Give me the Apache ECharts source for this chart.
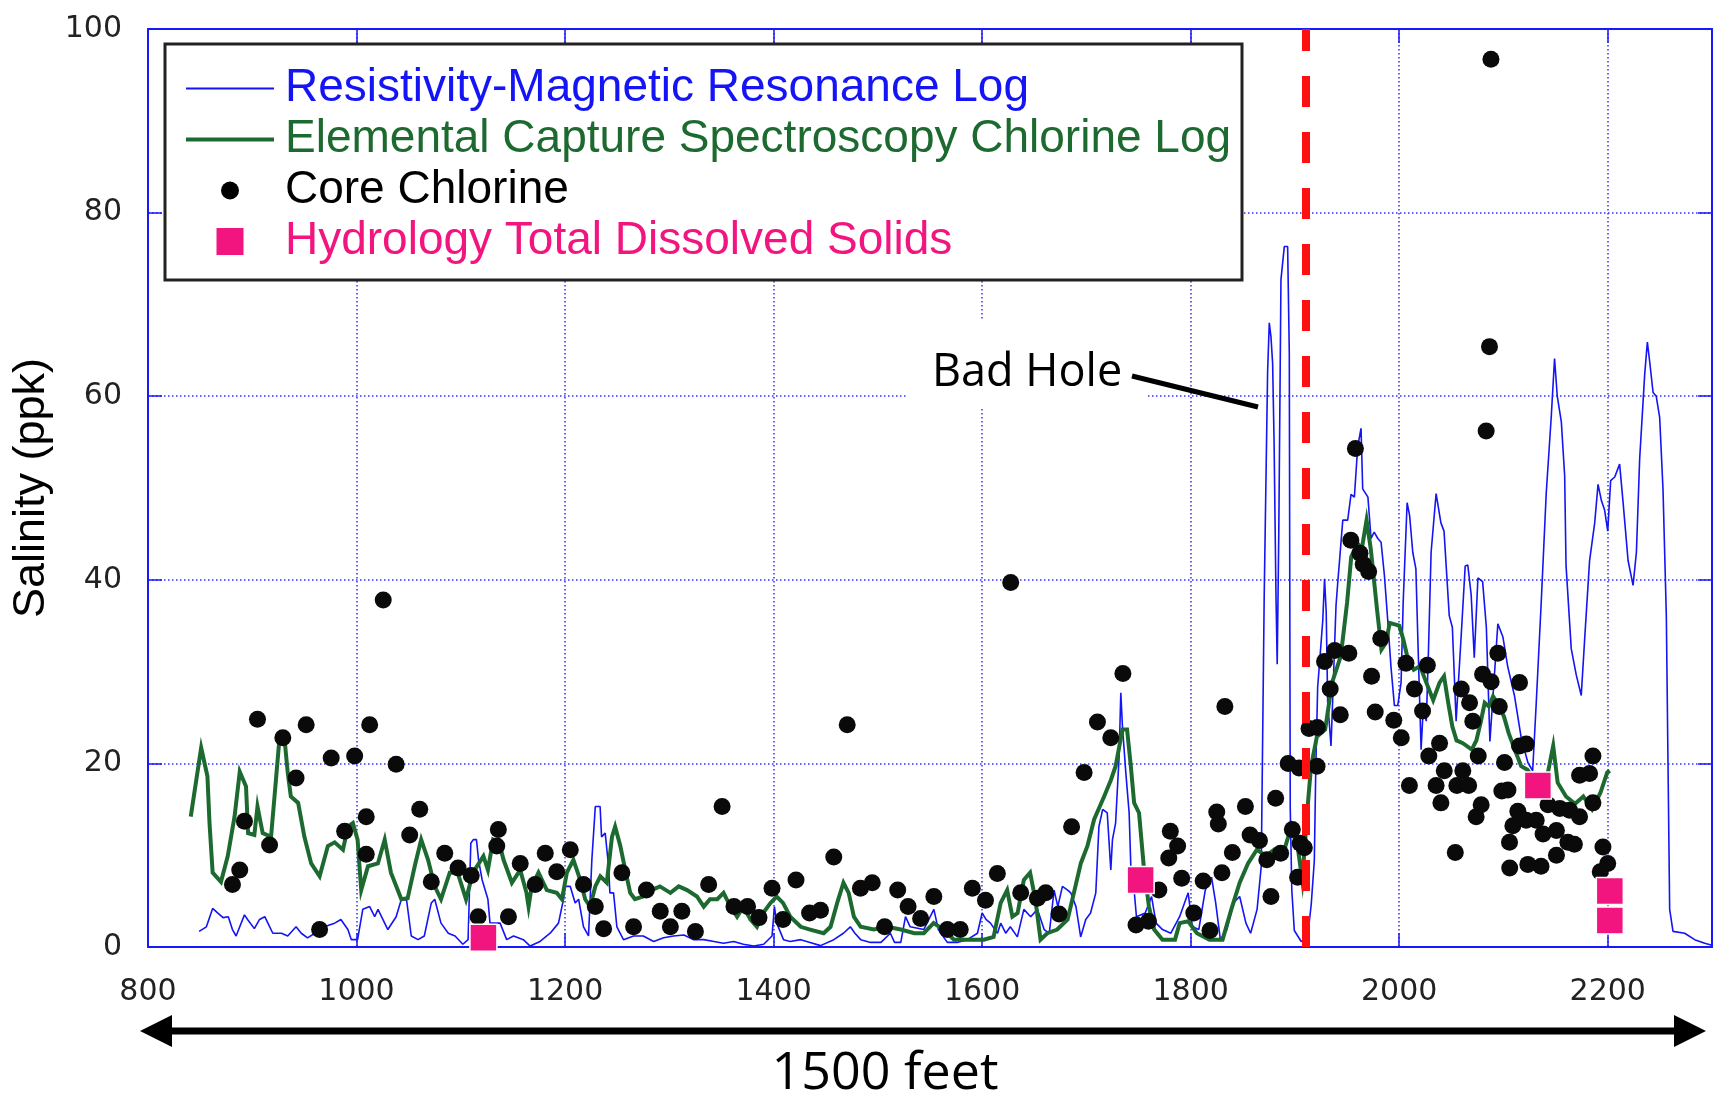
<!DOCTYPE html>
<html>
<head>
<meta charset="utf-8">
<title>Salinity logs</title>
<script src="https://cdn.jsdelivr.net/npm/echarts/dist/echarts.min.js"></script>
<style>
    html, body { margin: 0; padding: 0; background: #fff; }
    #main { width: 1723px; height: 1096px; }
</style>
</head>
<body>
<div id="main"></div>
<script>
// depth (feet) / salinity (ppk) pairs
var resistivityLog = [
    [849, 1.7], [856, 2.2], [862, 4.2], [867, 3.7], [872, 3.2], [877, 3.3], [881, 1.9], [884.5, 1.2], [888, 2.2], [892.5, 3.5],
    [895.5, 3.0], [902, 2.0], [907, 3.0], [912, 3.3], [915, 2.6], [919.7, 1.5], [928, 1.5], [934, 1.2], [942, 2.2], [947, 1.5],
    [953, 1.0], [960, 1.5], [969, 2.2], [979, 2.6], [985, 3.0], [991.7, 1.9], [995, 0.8], [1001, 0.8], [1006, 4.1], [1012.6, 4.4],
    [1017.4, 3.3], [1020.6, 4.1], [1030, 1.9], [1038, 3.3], [1043, 5.2], [1048, 5.1], [1052.5, 1.2], [1059, 0.8], [1065, 1.2], [1071.7, 4.8],
    [1075, 5.2], [1081, 2.6], [1088, 1.5], [1094.5, 1.2], [1102, 0.3], [1107, 0.8], [1109.6, 11.3], [1112, 11.7], [1115, 11.7], [1117, 9.5],
    [1120.5, 7.3], [1126, 5.2], [1128, 2.6], [1137.7, 2.6], [1144, 0.8], [1150.6, 1.2], [1160, 0.8], [1166.5, 0.1], [1176, 0.6], [1185.7, 1.5],
    [1193.7, 2.6], [1198.5, 5.2], [1200, 6.6], [1205, 6.6], [1209.7, 4.8], [1213, 5.2], [1217.7, 2.2], [1222.5, 1.2], [1225.7, 9.5], [1229, 15.3],
    [1233.6, 15.3], [1235, 12.0], [1238.5, 12.4], [1241.7, 8.8], [1243, 5.9], [1246.5, 5.9], [1249.7, 2.2], [1256, 0.8], [1265.7, 1.2], [1275, 1.2],
    [1285, 0.6], [1294.5, 1.0], [1304, 1.2], [1314, 1.3], [1323, 0.8], [1333, 0.8], [1342.7, 0.6], [1352, 0.4], [1361.7, 0.6], [1371, 0.3],
    [1381, 0.1], [1390.5, 0.3], [1398.5, 1.2], [1400.8, 4.4], [1403, 2.6], [1409.5, 0.8], [1416, 0.6], [1426, 0.8], [1435, 0.5], [1445, 0.15],
    [1457.7, 0.8], [1467, 1.5], [1473.6, 2.2], [1478, 1.5], [1483.5, 0.8], [1493, 0.5], [1503, 0.5], [1512, 1.5], [1516, 0.5], [1522, 0.5],
    [1526.5, 3.3], [1531, 2.2], [1544, 1.9], [1553.7, 4.1], [1558, 1.9], [1566.6, 0.5], [1576, 0.5], [1585.8, 0.8], [1595.5, 1.5], [1600, 3.7],
    [1603.7, 3.0], [1608, 2.6], [1614.7, 1.5], [1617.8, 2.6], [1622.6, 1.5], [1627, 2.2], [1633.8, 1.1], [1640, 4.1], [1646.6, 3.3], [1653, 4.1],
    [1659.5, 1.9], [1664.4, 1.5], [1669, 6.2], [1672.6, 4.4], [1677, 6.6], [1682, 6.2], [1685, 5.9], [1690, 4.4], [1694.5, 1.1], [1699.4, 3.0],
    [1704, 3.7], [1709, 5.9], [1712, 13.1], [1715.6, 15.0], [1720, 14.6], [1723.4, 8.4], [1725, 11.7], [1728, 13.5], [1731.4, 20.8], [1733, 27.7],
    [1734.6, 24.0], [1737.8, 19.0], [1741, 14.6], [1742.6, 8.8], [1746, 5.9], [1748, 3.3], [1756.4, 3.7], [1762.5, 5.5], [1766.8, 2.6], [1773, 1.9],
    [1781, 1.5], [1789.4, 3.3], [1797.6, 5.9], [1801.7, 2.2], [1807.8, 1.9], [1814, 6.2], [1820, 7.6], [1824, 4.8], [1828.5, 0.8], [1834.7, 1.9],
    [1841, 4.8], [1847, 5.5], [1853, 2.6], [1857.5, 1.5], [1863.7, 4.1], [1867.7, 8.8], [1870.5, 38.0], [1873.8, 62.7], [1875.4, 68.0], [1877, 66.5],
    [1878.6, 63.6], [1880, 55.0], [1881.8, 38.4], [1883, 30.8], [1884.5, 45.0], [1886.6, 72.7], [1889.8, 76.3], [1893, 76.3], [1894.6, 64.7], [1895.5, 15.1],
    [1897, 6.2], [1899.4, 1.8], [1906, 0.6], [1912, 0.9], [1915.6, 4.6], [1918.6, 9.4], [1920, 19.5], [1921.8, 28.3], [1923.5, 30.8], [1926.7, 35.6],
    [1928.4, 40.1], [1930, 36.5], [1931.4, 26.7], [1934.6, 21.9], [1936, 26.3], [1939.4, 37.2], [1941, 39.6], [1945.9, 46.5], [1950.6, 46.5], [1953.8, 49.3],
    [1957, 49.0], [1960.2, 54.5], [1963.4, 56.5], [1965, 49.9], [1970, 49.0], [1973, 44.5], [1976, 45.2], [1979.5, 44.5], [1982.6, 44.1], [1985.8, 40.5],
    [1989, 35.6], [1992.2, 30.4], [1995.4, 26.3], [1998.6, 26.3], [2001.8, 28.8], [2003.8, 37.5], [2007.6, 48.4], [2010, 47.0], [2013, 43.0], [2016, 41.2],
    [2018, 33.1], [2021, 21.5], [2023, 25.9], [2026, 24.6], [2028, 32.0], [2030.6, 43.0], [2035.4, 49.4], [2040, 46.2], [2043, 45.3], [2048, 36.1],
    [2051, 34.8], [2054.6, 24.6], [2059.4, 33.8], [2063.3, 41.5], [2065.8, 41.6], [2069, 38.4], [2072, 31.5], [2075.5, 40.2], [2080, 39.8], [2083.6, 34.8],
    [2087, 22.4], [2090.6, 28.4], [2094.6, 35.2], [2099.4, 33.8], [2104, 30.6], [2110.5, 27.4], [2117, 22.8], [2123.4, 20.1], [2128, 19.2], [2131.4, 26.5],
    [2136.2, 37.5], [2141, 49.4], [2145.8, 57.7], [2149, 64.1], [2151.6, 60.0], [2155.5, 57.2], [2158.7, 51.3], [2160, 41.6], [2165, 32.5], [2169.7, 29.7],
    [2174.6, 27.4], [2177.8, 33.4], [2182.6, 42.1], [2187.5, 46.2], [2190.7, 50.4], [2194, 48.6], [2197, 47.6], [2200, 45.3], [2202.8, 50.8], [2206.7, 51.2],
    [2211.4, 52.6], [2214.6, 48.6], [2219.5, 42.1], [2224.3, 39.4], [2227.5, 43.0], [2230.6, 53.1], [2235.4, 62.3], [2238, 65.9], [2240, 64.0], [2243.5, 60.4],
    [2246.5, 60.0], [2249.8, 57.7], [2253, 49.9], [2256.2, 36.1], [2257.8, 20.1], [2259.4, 4.1], [2262.6, 1.7], [2273.8, 1.5], [2283.4, 0.8], [2293, 0.4],
    [2300, 0.2]
];

var ecsChlorineLog = [
    [841, 14.2], [851, 21.7], [857, 18.6], [859, 13.5], [862, 8.1], [870, 7.1], [876.5, 9.9], [883, 14.2], [888, 19.1], [894, 17.5],
    [896, 12.4], [902, 12.2], [905, 15.3], [910, 12.4], [918, 12.0], [923, 18.6], [926, 22.6], [931, 22.6], [934, 19.0], [937, 16.4],
    [944, 15.7], [950, 12.0], [956.5, 9.1], [964.6, 7.7], [972.5, 11.0], [979, 11.4], [987, 10.6], [991.7, 13.1], [996.5, 13.5], [1001, 11.7],
    [1004.5, 6.2], [1011, 8.8], [1020.5, 9.1], [1027, 11.7], [1033, 8.1], [1043, 5.2], [1049, 5.3], [1055.8, 8.8], [1062, 11.7], [1068.6, 9.5],
    [1075, 6.6], [1081, 5.2], [1089.4, 8.1], [1097, 8.1], [1105, 5.2], [1111.7, 8.1], [1121.7, 9.9], [1126, 8.4], [1131, 11.7], [1137, 11.3],
    [1141, 9.5], [1149, 7.0], [1157, 8.4], [1163, 5.9], [1165, 4.4], [1168, 6.6], [1174.5, 8.1], [1182.5, 6.2], [1192, 5.9], [1197, 5.2],
    [1201.7, 8.1], [1208, 9.5], [1214.6, 7.3], [1219.3, 5.2], [1224, 4.4], [1229, 6.6], [1233.8, 7.7], [1240, 7.0], [1245, 12.0], [1248, 13.1],
    [1253, 11.0], [1257.7, 8.4], [1262.5, 5.9], [1267, 5.2], [1275, 5.5], [1283, 6.2], [1291, 6.6], [1301, 5.9], [1309, 6.6], [1317, 6.2],
    [1326.5, 5.5], [1333, 4.4], [1339, 5.2], [1346, 5.2], [1352, 5.9], [1358.6, 4.4], [1365, 3.3], [1371, 4.4], [1377.7, 3.0], [1384, 2.2],
    [1390, 3.7], [1397, 4.8], [1403, 5.5], [1409, 4.8], [1416, 3.3], [1426, 2.2], [1435, 1.9], [1448, 1.5], [1454.6, 2.2], [1461, 4.8],
    [1467, 7.0], [1472, 5.9], [1477, 3.3], [1483.5, 2.2], [1496, 1.9], [1509, 2.2], [1522, 1.9], [1535, 1.5], [1544, 1.5], [1553.5, 2.6],
    [1563, 1.9], [1573, 0.8], [1589, 0.8], [1601.7, 0.8], [1611, 1.1], [1617.8, 4.8], [1624, 6.2], [1629, 3.3], [1634, 3.7], [1640, 7.3],
    [1646, 8.1], [1651, 5.2], [1656, 0.8], [1662.5, 1.5], [1672, 1.9], [1682, 3.0], [1688, 5.9], [1694.6, 9.1], [1701, 11.0], [1707.4, 13.9],
    [1717, 16.4], [1723.5, 18.2], [1728, 19.7], [1731, 21.5], [1734.6, 23.7], [1739, 23.7], [1742.6, 19.7], [1745.8, 15.7], [1750.5, 14.6], [1755, 8.8],
    [1760, 4.4], [1765, 1.9], [1773, 0.8], [1785, 0.8], [1789.4, 2.6], [1797.6, 2.8], [1806, 1.5], [1818, 0.8], [1830.6, 0.8], [1839, 4.1],
    [1847, 7.0], [1855, 9.1], [1863.5, 10.6], [1872, 9.9], [1880, 10.6], [1888, 9.9], [1896.5, 13.1], [1903, 10.6], [1907, 7.3], [1913, 16.4],
    [1915.5, 19.7], [1921, 22.9], [1929, 23.7], [1935.6, 28.8], [1944, 31.7], [1950, 37.5], [1954, 42.5], [1960, 44.0], [1964, 43.3], [1968.7, 46.5],
    [1972.8, 43.3], [1978.8, 36.7], [1983, 32.4], [1987, 33.1], [1991, 35.3], [2000, 35.0], [2004, 33.5], [2007.6, 31.7], [2014, 30.2], [2020, 30.6],
    [2026, 28.8], [2032.6, 26.9], [2038.7, 28.8], [2043, 29.5], [2047, 26.6], [2051, 24.0], [2055, 22.5], [2061, 22.2], [2069.6, 21.5], [2074, 22.5],
    [2078, 24.4], [2082, 26.6], [2086, 26.2], [2090, 27.3], [2094, 26.6], [2100.5, 25.1], [2105, 23.3], [2110.8, 21.5], [2117, 19.7], [2123, 19.3],
    [2131, 17.9], [2140, 17.5], [2147.7, 21.9], [2152, 17.9], [2160, 16.4], [2168.6, 15.6], [2176.6, 16.4], [2185, 15.0], [2193, 16.8], [2199.5, 19.0],
    [2202, 19.2]
];

var coreChlorine = [
    [881, 6.8], [888, 8.4], [892.5, 13.7], [905, 24.8], [916.6, 11.1], [929.3, 22.8], [942, 18.4], [951.7, 24.2], [964.6, 1.9], [975.7, 20.6],
    [988.6, 12.6], [998.2, 20.8], [1009.3, 14.2], [1009.3, 10.1], [1012.6, 24.2], [1025.6, 37.8], [1038, 19.9], [1051, 12.2], [1060.6, 15.0], [1071.7, 7.1],
    [1084.6, 10.2], [1097.4, 8.6], [1110, 7.8], [1116.6, 3.3], [1134.5, 11.0], [1136, 12.8], [1145.7, 3.3], [1157, 9.1], [1171.3, 6.8], [1181, 10.2],
    [1192, 8.2], [1205, 10.6], [1217.7, 6.8], [1229, 4.4], [1237, 2.0], [1254.5, 8.1], [1265.7, 2.2], [1278, 6.2], [1291.3, 3.9], [1301, 2.2],
    [1312, 3.9], [1325, 1.7], [1337.7, 6.8], [1350.6, 15.3], [1362, 4.4], [1375, 4.4], [1386, 3.2], [1398.5, 6.4], [1409, 3.0], [1421.5, 7.3],
    [1434.5, 3.7], [1445, 4.0], [1457.7, 9.8], [1470.6, 24.2], [1483.3, 6.4], [1494.6, 7.0], [1506.5, 2.2], [1519, 6.2], [1529, 4.4], [1541, 3.1],
    [1553.7, 5.5], [1566.6, 1.9], [1579, 1.9], [1590.6, 6.4], [1603.2, 5.1], [1614.6, 8.0], [1627.4, 39.7], [1637, 5.9], [1653, 5.3], [1661, 5.9],
    [1673.8, 3.6], [1685.8, 13.1], [1697.8, 19.0], [1710.6, 24.5], [1723.4, 22.8], [1735, 29.8], [1747.6, 2.4], [1759.5, 2.8], [1769.5, 6.2], [1779, 9.7],
    [1780.5, 12.6], [1787.5, 11.0], [1791.4, 7.5], [1803, 3.7], [1812, 7.2], [1818.5, 1.8], [1825, 14.7], [1826.5, 13.4], [1830, 8.1], [1832.8, 26.2],
    [1840, 10.3], [1852.5, 15.3], [1857, 12.2], [1866, 11.6], [1873, 9.5], [1877, 5.5], [1881.5, 16.2], [1886.3, 10.2], [1893.5, 20.0], [1897.5, 12.8],
    [1902.6, 7.6], [1904, 19.5], [1905, 11.3], [1909, 10.8], [1913.5, 23.8], [1921.2, 19.7], [1921.5, 23.9], [1928.4, 31.1], [1933.8, 28.1], [1938.2, 32.3],
    [1943.5, 25.3], [1951.7, 32.0], [1953.6, 44.3], [1958, 54.3], [1962.4, 42.9], [1965.5, 41.7], [1970.7, 40.9], [1973.5, 29.5], [1977, 25.6], [1982.3, 33.6],
    [1994.8, 24.7], [2002, 22.8], [2006.5, 30.9], [2009.8, 17.6], [2014.6, 28.1], [2022.4, 25.7], [2027, 30.7], [2028.4, 20.8], [2035.4, 17.6], [2038.7, 22.2],
    [2040, 15.7], [2043.2, 19.2], [2053.8, 10.3], [2055.3, 17.6], [2059.5, 28.1], [2061, 19.2], [2066.6, 17.6], [2067.5, 26.6], [2070.6, 24.6], [2073.8, 14.2],
    [2075.8, 20.8], [2078.6, 15.5], [2080, 29.7], [2083.4, 56.2], [2086.6, 65.4], [2088, 96.7], [2088.2, 28.9], [2094.6, 32.0], [2096, 26.2], [2098.4, 17.0],
    [2101, 20.1], [2104.3, 17.1], [2105.8, 11.4], [2106, 8.6], [2109, 13.2], [2113.8, 14.8], [2115.4, 28.8], [2115.4, 21.9], [2121.8, 22.1], [2121.8, 13.8],
    [2123.4, 9.0], [2131.4, 13.8], [2136, 8.8], [2138, 12.3], [2142.7, 15.5], [2150.8, 12.7], [2150.8, 10.0], [2154, 15.1], [2161.8, 11.4], [2163.4, 14.9],
    [2168, 11.2], [2173, 14.2], [2173, 18.7], [2182.6, 18.9], [2185.8, 20.8], [2185.8, 15.7], [2192.8, 8.2], [2195.4, 10.9], [2200, 9.1]
];

var hydrologyTds = [[1121.7, 1.0], [1752, 7.3], [2133, 17.6], [2202, 6.1], [2202, 2.9]];

var badHoleDepth = 1910;
var depthMin = 800, depthMax = 2300, depthStep = 200;
var salinityMin = 0, salinityMax = 100, salinityStep = 20;

var seriesNames = [
    'Resistivity-Magnetic Resonance Log',
    'Elemental Capture Spectroscopy Chlorine Log',
    'Core Chlorine',
    'Hydrology Total Dissolved Solids'
];

var BLUE = '#1414f5';
var GREEN = '#1d6a30';
var PINK = '#f2157f';
var AXIS_BLUE = '#1818ff';

var chart = echarts.init(document.getElementById('main'));

// legend icons share one 94x27 box so line, dot and square line up
var iconBox = 'M0,0 M94,27 ';
var legendIcons = [
    'path://' + iconBox + 'M0,12.5 H88 V14.5 H0 Z',
    'path://' + iconBox + 'M0,11.5 H88 V15.5 H0 Z',
    'path://' + iconBox + 'M44,4.5 A9,9 0 1,1 44,22.5 A9,9 0 1,1 44,4.5 Z',
    'path://' + iconBox + 'M30.5,0 H57.5 V27 H30.5 Z'
];
var legendColors = [BLUE, GREEN, '#000', PINK];

function axisPair(pos, isX, showLabel) {
    var ax = {
        type: 'value',
        position: pos,
        min: isX ? depthMin : salinityMin,
        max: isX ? depthMax : salinityMax,
        interval: isX ? depthStep : salinityStep,
        axisLine: { show: true, onZero: false, lineStyle: { color: AXIS_BLUE, width: 2 } },
        axisTick: { show: true, inside: true, length: 14, lineStyle: { color: AXIS_BLUE, width: 1.5 } },
        axisLabel: { show: false },
        splitLine: { show: false }
    };
    if (showLabel) {
        ax.axisLabel = {
            show: true,
            showMaxLabel: !isX,
            margin: isX ? 30 : 26,
            color: '#222',
            fontFamily: 'DejaVu Sans',
            fontSize: 30,
            formatter: function (v) { return String(v); }
        };
        ax.splitLine = { show: true, lineStyle: { color: '#3030ff', width: 1.5, type: [1.5, 2.5] } };
    }
    return ax;
}

var yMain = axisPair('left', false, true);
yMain.name = 'Salinity (ppk)';
yMain.nameLocation = 'middle';
yMain.nameGap = 88;
yMain.nameTextStyle = { color: '#000', fontFamily: 'Liberation Sans', fontSize: 45 };

var option = {
    animation: false,
    backgroundColor: '#fff',
    grid: { left: 148, right: 11, top: 29, bottom: 149, containLabel: false },
    xAxis: [axisPair('bottom', true, true), axisPair('top', true, false)],
    yAxis: [yMain, axisPair('right', false, false)],
    legend: {
        orient: 'vertical',
        left: 186,
        top: 63,
        padding: 0,
        itemGap: 0,
        itemWidth: 94,
        itemHeight: 27,
        selectedMode: false,
        itemStyle: { borderWidth: 0 },
        textStyle: { fontFamily: 'Liberation Sans', fontSize: 46, lineHeight: 51 },
        data: seriesNames.map(function (name, i) {
            return {
                name: name,
                icon: legendIcons[i],
                itemStyle: { color: legendColors[i], borderWidth: 0 },
                textStyle: { color: legendColors[i] }
            };
        })
    },
    series: [{
        name: seriesNames[0],
        type: 'line',
        data: resistivityLog,
        showSymbol: false,
        symbol: 'none',
        color: BLUE,
        lineStyle: { color: BLUE, width: 1.6 },
        z: 2
    }, {
        name: seriesNames[1],
        type: 'line',
        data: ecsChlorineLog,
        showSymbol: false,
        symbol: 'none',
        color: GREEN,
        lineStyle: { color: GREEN, width: 4, join: 'miter' },
        z: 2
    }, {
        name: seriesNames[2],
        type: 'scatter',
        data: coreChlorine,
        symbol: 'circle',
        symbolSize: 17,
        itemStyle: { color: '#0a0a0a', opacity: 1 },
        z: 2
    }, {
        name: seriesNames[3],
        type: 'scatter',
        data: hydrologyTds,
        symbol: 'rect',
        symbolSize: 27,
        itemStyle: { color: PINK, borderColor: '#fff', borderWidth: 1.5, opacity: 1 },
        z: 2,
        // boundary of the bad-hole interval
        markLine: {
            silent: true,
            symbol: 'none',
            label: { show: false },
            lineStyle: { color: '#ff1010', width: 8, type: [31, 25] },
            data: [{ xAxis: badHoleDepth }]
        }
    }],
    graphic: [
        // legend frame
        {
            type: 'rect', z: 3,
            shape: { x: 165, y: 44, width: 1077, height: 236 },
            style: { fill: '#fff', stroke: '#222', lineWidth: 3 }
        },
        // "Bad Hole" callout
        {
            type: 'rect', z: 3,
            shape: { x: 907, y: 319, width: 240, height: 88 },
            style: { fill: '#fff' }
        },
        {
            type: 'text', z: 5, x: 932, y: 373,
            style: { text: 'Bad Hole', fill: '#000', fontFamily: 'Open Sans', fontSize: 45, align: 'left', verticalAlign: 'middle' }
        },
        {
            type: 'line', z: 5,
            shape: { x1: 1132, y1: 376, x2: 1258, y2: 407 },
            style: { stroke: '#000', lineWidth: 5 }
        },
        // 1500 feet span arrow
        {
            type: 'line', z: 5,
            shape: { x1: 160, y1: 1031, x2: 1686, y2: 1031 },
            style: { stroke: '#000', lineWidth: 7 }
        },
        {
            type: 'polygon', z: 5,
            shape: { points: [[140, 1031], [172, 1015], [172, 1047]] },
            style: { fill: '#000' }
        },
        {
            type: 'polygon', z: 5,
            shape: { points: [[1706, 1031], [1674, 1015], [1674, 1047]] },
            style: { fill: '#000' }
        },
        {
            type: 'text', z: 5, x: 885, y: 1074,
            style: { text: '1500 feet', fill: '#000', fontFamily: 'Open Sans', fontSize: 52, align: 'center', verticalAlign: 'middle' }
        }
    ]
};

chart.setOption(option);
</script>
</body>
</html>
